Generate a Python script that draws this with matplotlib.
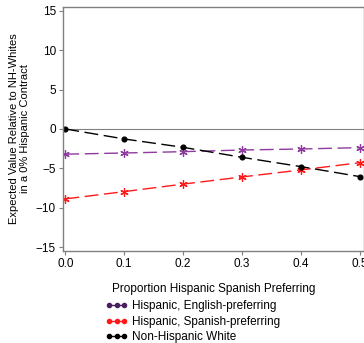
import numpy as np
import matplotlib.pyplot as plt
from matplotlib.lines import Line2D

plt.rcParams['font.family'] = ['Liberation Sans', 'DejaVu Sans']

prop = [0.0, 0.1, 0.2, 0.3, 0.4, 0.5]
eng_pref = [-3.2, -3.05, -2.88, -2.67, -2.54, -2.37]
spa_pref = [-8.88, -7.95, -7.0, -6.09, -5.2, -4.28]
nh_white = [0.0, -1.27, -2.33, -3.6, -4.78, -6.05]

names = ["Hispanic, English-preferring", "Hispanic, Spanish-preferring", "Non-Hispanic White"]
line_cols = ["#8e3a9e", "#ff1a1a", "#000000"]
leg_cols = ["#4b1f5e", "#ff1a1a", "#000000"]

fig = plt.figure(figsize=(3.64, 3.43), dpi=100)
ax = fig.add_axes([0.173, 0.268, 0.827, 0.712])

ax.axhline(0, color="#808080", lw=0.8)
for ys, c, m in zip([eng_pref, spa_pref, nh_white], line_cols, [(6, 2, 0), (6, 2, 0), "o"]):
    ax.plot(prop, ys, color=c, lw=1.0, dashes=(10, 4), marker=m,
            ms=6 if m != "o" else 3.5, markeredgewidth=0.9)

ax.set_xlim(-0.004, 0.507)
ax.set_ylim(-15.5, 15.5)
ax.set_xticks(prop)
ax.set_xticklabels(["0.0", "0.1", "0.2", "0.3", "0.4", "0.5"])
ax.set_yticks([-15, -10, -5, 0, 5, 10, 15])
ax.tick_params(labelsize=8.5, length=3, color="#808080", width=0.8, pad=2)
for s in ax.spines.values():
    s.set_color("#808080")
    s.set_linewidth(1.0)

ax.set_xlabel("Proportion Hispanic Spanish Preferring", fontsize=8.5, labelpad=9)
ax.set_ylabel("Expected Value Relative to NH-Whites\nin a 0% Hispanic Contract", fontsize=8, labelpad=4)

handles = [Line2D([0], [0], color=c, lw=1.0, marker="o", ms=3) for c in leg_cols]
fig.legend(handles, names, loc="upper left", bbox_to_anchor=(0.29, 0.125),
           frameon=False, fontsize=8.5, numpoints=3, handlelength=1.9,
           handletextpad=0.3, labelspacing=0.3, borderaxespad=0, borderpad=0)

fig.savefig("out.png", dpi=100)
